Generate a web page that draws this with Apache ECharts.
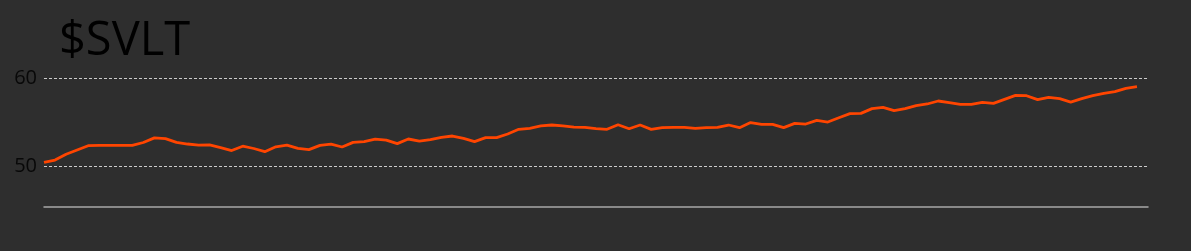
<!DOCTYPE html>
<html>
<head>
<meta charset="utf-8">
<script src="https://cdn.jsdelivr.net/npm/echarts@6/dist/echarts.min.js"></script>
<style>
html,body{margin:0;padding:0;background:#2e2e2e;}
#chart{width:1191px;height:251px;}
</style>
</head>
<body>
<div id="chart"></div>
<script>
const title = '$SVLT';
const yTickValues = [50, 60];
const prices = [
  50.40, 50.68, 51.33, 51.82, 52.31, 52.35, 52.35, 52.35, 52.35, 52.67,
  53.20, 53.12, 52.69, 52.50, 52.37, 52.40, 52.08, 51.76, 52.25, 51.99,
  51.63, 52.18, 52.37, 52.01, 51.86, 52.35, 52.48, 52.16, 52.69, 52.77,
  53.05, 52.95, 52.54, 53.07, 52.84, 52.99, 53.26, 53.41, 53.14, 52.77,
  53.22, 53.22, 53.64, 54.17, 54.28, 54.55, 54.66, 54.55, 54.43, 54.39,
  54.25, 54.17, 54.69, 54.24, 54.66, 54.17, 54.37, 54.39, 54.39, 54.28,
  54.36, 54.39, 54.66, 54.36, 54.94, 54.73, 54.73, 54.36, 54.85, 54.77,
  55.19, 55.00, 55.49, 55.96, 55.98, 56.52, 56.67, 56.29, 56.52, 56.86,
  57.05, 57.39, 57.20, 57.01, 57.01, 57.24, 57.12, 57.58, 58.03, 57.99,
  57.54, 57.80, 57.65, 57.27, 57.65, 57.99, 58.26, 58.45, 58.83, 59.02
];
const categories = [];
for (let i = 0; i <= prices.length; i++) categories.push(String(i + 1));

const chart = echarts.init(document.getElementById('chart'));
chart.setOption({
  backgroundColor: '#2e2e2e',
  animation: false,
  title: {
    text: title,
    left: 54,
    top: 13,
    textStyle: { fontFamily: 'Open Sans', fontSize: 47, fontWeight: 'normal', color: '#000' }
  },
  grid: { left: 44, right: 43, top: 60, bottom: 44, containLabel: false },
  xAxis: {
    type: 'category',
    data: categories,
    boundaryGap: false,
    axisLine: { show: true, lineStyle: { color: '#a8a8a8', width: 1.5 } },
    axisTick: { show: false },
    axisLabel: { show: false },
    splitLine: { show: false }
  },
  yAxis: {
    type: 'value',
    min: 45.34,
    max: 62.05,
    axisLine: { show: false },
    axisTick: { show: false, customValues: yTickValues },
    axisLabel: {
      customValues: yTickValues,
      color: '#080808',
      fontFamily: 'Open Sans',
      fontSize: 20,
      margin: 7
    },
    splitLine: { show: true, lineStyle: { color: '#cccccc', type: [3, 2], width: 1.2 } }
  },
  series: [{
    type: 'line',
    data: prices,
    symbol: 'none',
    lineStyle: { color: '#ff4500', width: 2.8 },
    itemStyle: { color: '#ff4500' }
  }]
});
</script>
</body>
</html>
